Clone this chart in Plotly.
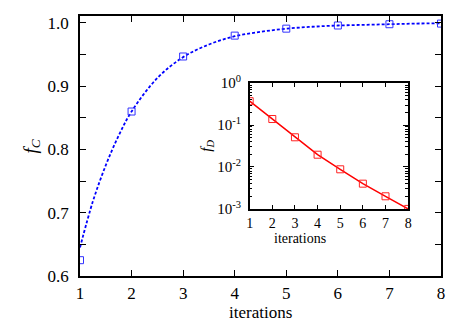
import plotly.graph_objects as go

# main panel: fraction f_C vs iterations
iterations = [1, 2, 3, 4, 5, 6, 7, 8]
f_c = [0.625, 0.860, 0.947, 0.980, 0.991, 0.996, 0.998, 0.999]

# fitted curve
fit_x = [1, 1.25, 1.5, 1.75, 2, 2.5, 3, 3.5, 4, 4.5, 5, 5.5, 6, 6.5, 7, 7.5, 8]
fit_y = [0.645, 0.718, 0.775, 0.822, 0.860, 0.913, 0.946, 0.966, 0.979,
         0.986, 0.991, 0.994, 0.996, 0.997, 0.998, 0.999, 0.9995]

# inset: f_D on log scale
f_d = [0.37, 0.139, 0.051, 0.0196, 0.0088, 0.0040, 0.0020, 0.0010]

serif = "Liberation Serif, Times New Roman, serif"

fig = go.Figure()
fig.add_trace(go.Scatter(x=fit_x, y=fit_y, mode="lines",
                         line=dict(color="#0000ff", width=1.8, dash="3px,2px", shape="spline"),
                         showlegend=False, hoverinfo="skip"))
fig.add_trace(go.Scatter(x=iterations, y=f_c, mode="markers",
                         marker=dict(symbol="square-open", size=7, color="#3333ff", line=dict(width=1)),
                         showlegend=False))
fig.add_trace(go.Scatter(x=iterations, y=f_d, mode="lines+markers", xaxis="x2", yaxis="y2",
                         line=dict(color="#ff0000", width=1.5),
                         marker=dict(symbol="square-open", size=7, color="#ff2222", line=dict(width=1)),
                         showlegend=False))

axis_common = dict(showline=True, linecolor="black", linewidth=1.5, mirror="allticks", ticks="inside",
                   tickcolor="black", showgrid=False, zeroline=False, automargin=False)

# the page puts the figure 8px down and right, so it is drawn smaller than the window
fig.update_layout(
    width=455, height=320,
    margin=dict(l=72, r=22, t=8, b=52),
    paper_bgcolor="white", plot_bgcolor="white",
    font=dict(family=serif, size=17, color="black"),
    xaxis=dict(axis_common, range=[1, 8], dtick=1, ticklen=6, tickwidth=1.2,
               tickfont=dict(size=17), ticklabelstandoff=1),
    yaxis=dict(axis_common, range=[0.6, 1.011], tickvals=[0.6, 0.7, 0.8, 0.9, 1.0],
               ticktext=["0.6", "0.7", "0.8", "0.9", "1.0"], ticklen=6, tickwidth=1.2,
               minor=dict(ticks="inside", tickvals=[0.65, 0.75, 0.85, 0.95], ticklen=6, tickcolor="black", tickwidth=1.2),
               tickfont=dict(size=17), ticklabelstandoff=6),
    xaxis2=dict(axis_common, domain=[0.470, 0.909], anchor="y2", range=[1, 8], dtick=1,
                ticklen=4, tickwidth=1, tickfont=dict(size=14), ticklabelstandoff=1),
    yaxis2=dict(axis_common, domain=[0.258, 0.742], anchor="x2", type="log", range=[-3, 0],
                tickvals=[0.001, 0.01, 0.1, 1],
                ticktext=["10<sup>-3</sup>", "10<sup>-2</sup>", "10<sup>-1</sup>", "10<sup>0</sup>"],
                ticklen=5, tickwidth=1, tickfont=dict(size=15), ticklabelstandoff=4,
                minor=dict(ticks="inside", ticklen=3, tickcolor="black", tickwidth=0.8,
                           tickvals=[m * 10 ** e for e in (-3, -2, -1) for m in range(2, 10)])),
    annotations=[
        dict(text="iterations", xref="paper", yref="paper", x=0.5, y=-0.142, yanchor="middle",
             showarrow=False, font=dict(size=17)),
        dict(text="<i>f<sub>C</sub></i>", xref="paper", yref="paper", x=-0.173, y=0.496, textangle=-90,
             showarrow=False, font=dict(size=19)),
        dict(text="iterations", xref="paper", yref="paper", x=0.688, y=0.146, yanchor="middle",
             showarrow=False, font=dict(size=14)),
        dict(text="<i>f<sub>D</sub></i>", xref="paper", yref="paper", x=0.351, y=0.50, textangle=-90,
             showarrow=False, font=dict(size=15)),
    ],
)

fig.write_html("out.html")
